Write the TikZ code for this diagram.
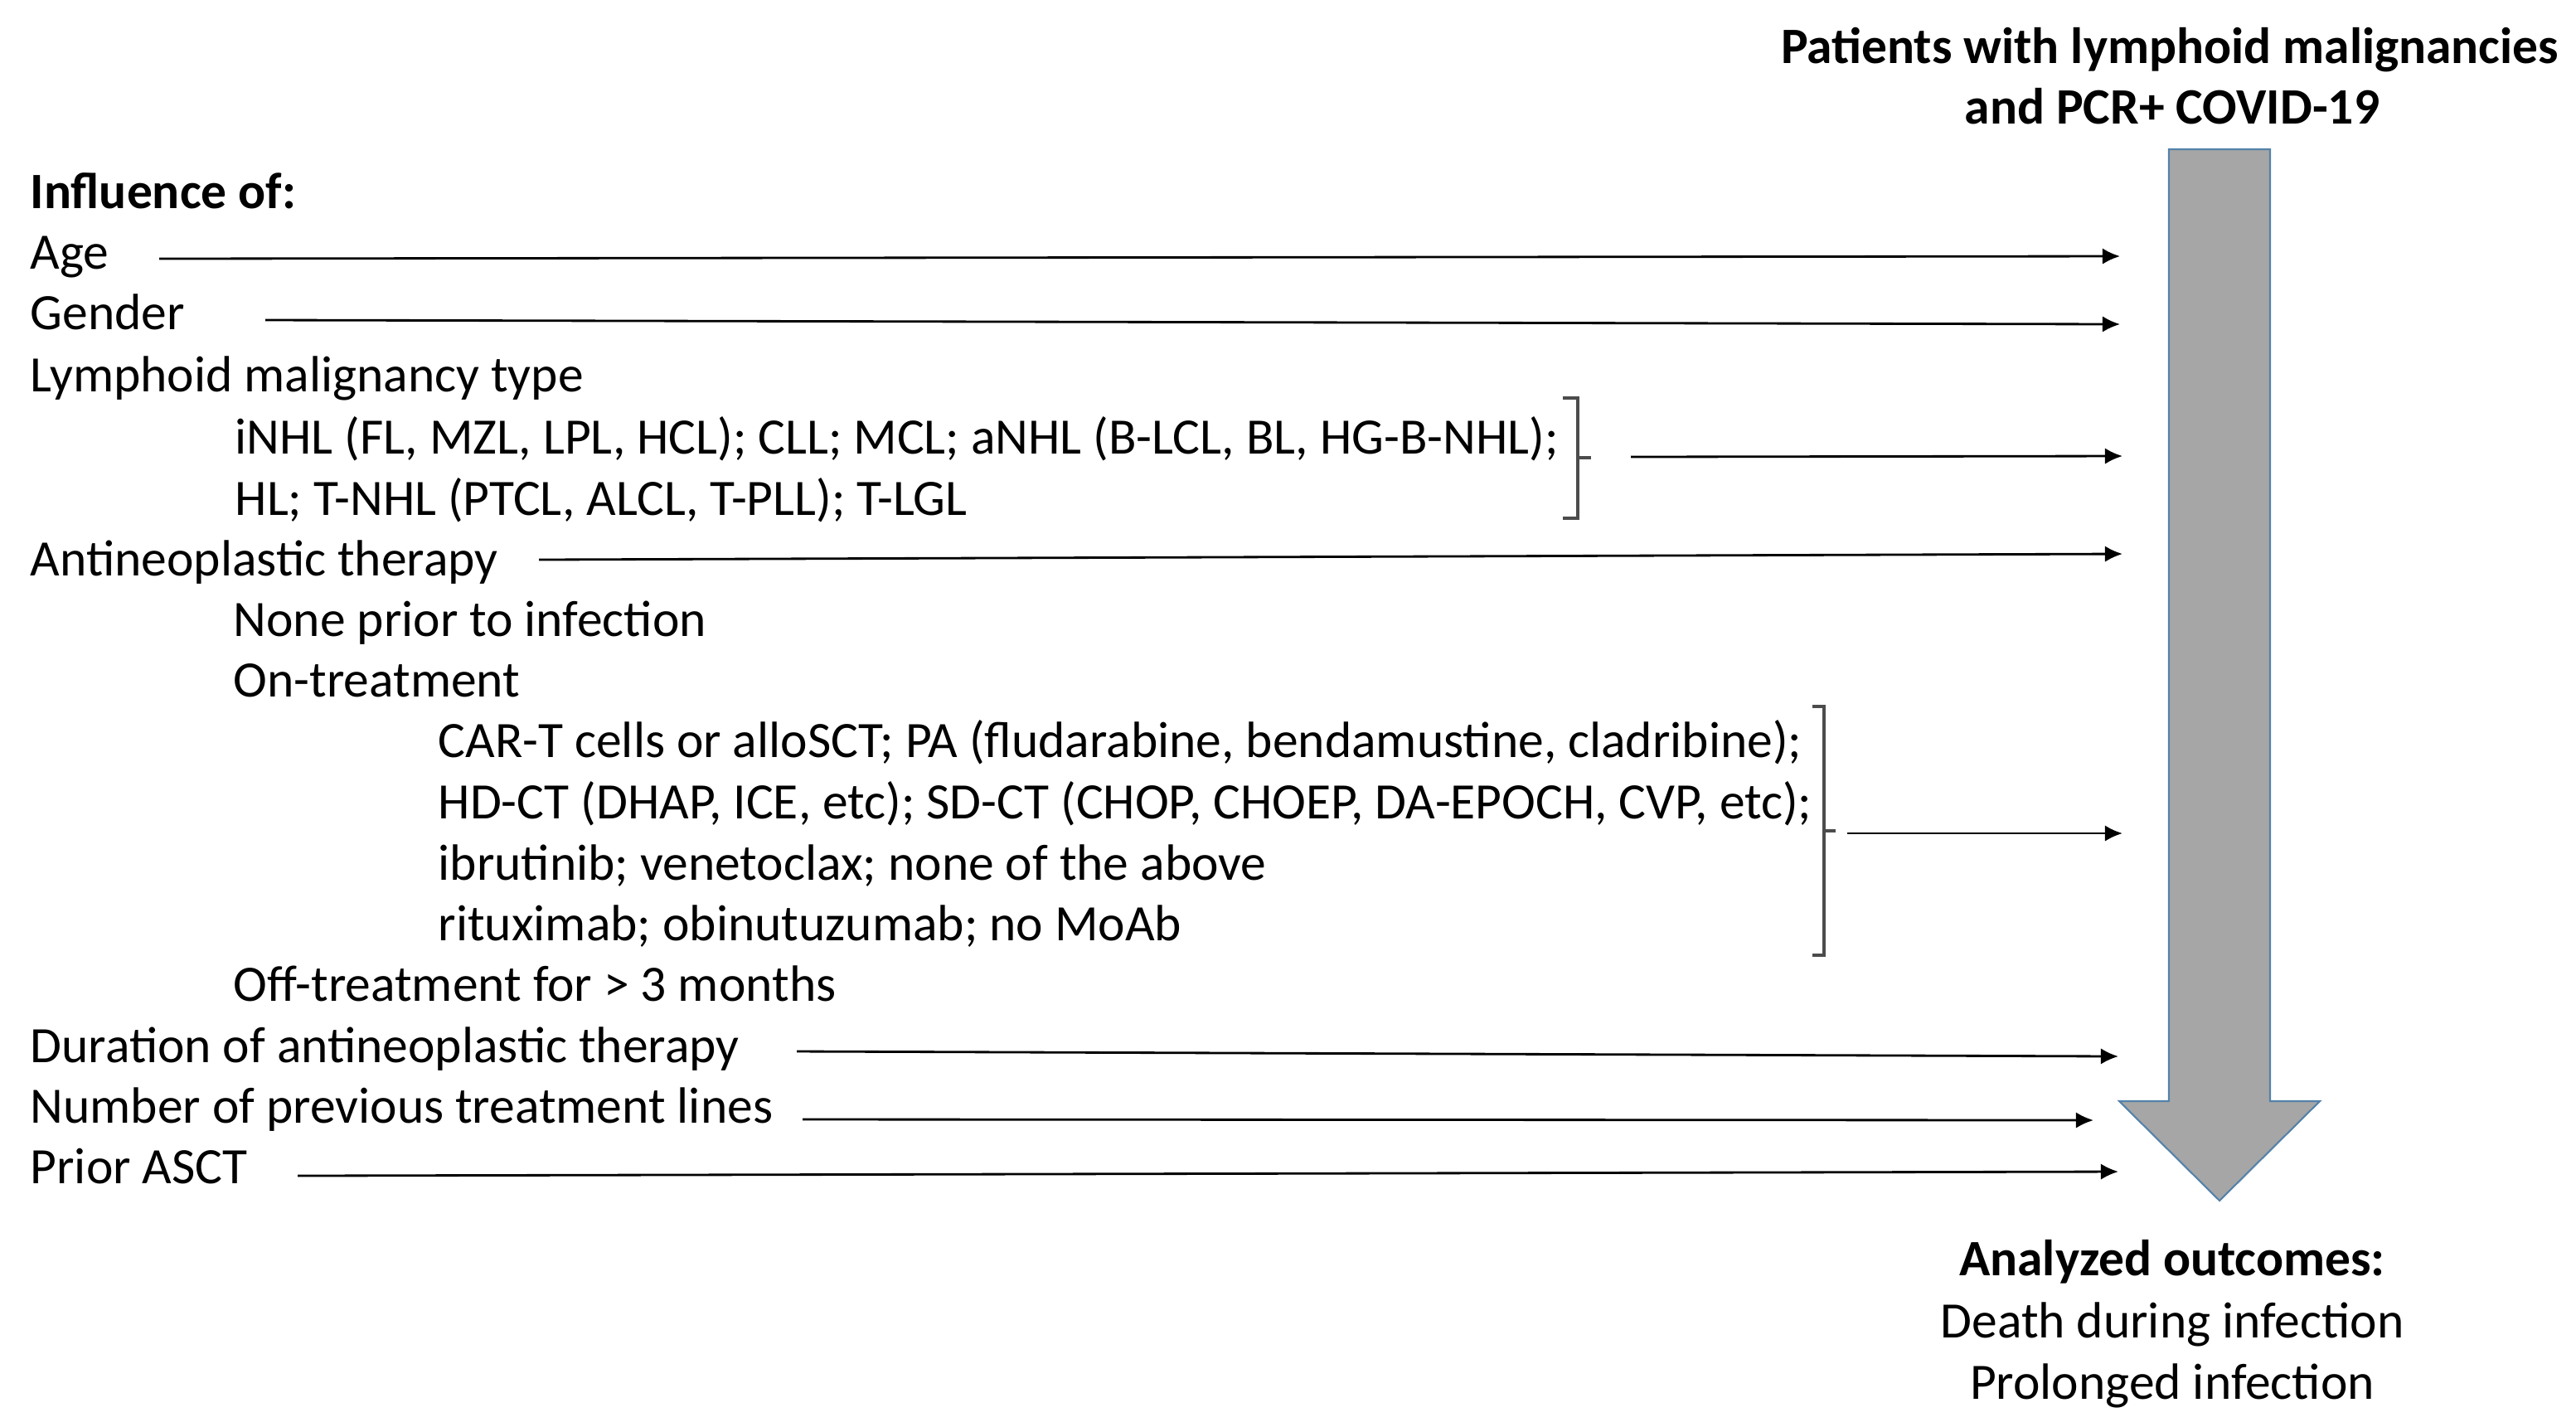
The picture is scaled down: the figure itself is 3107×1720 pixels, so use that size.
\documentclass[tikz,border=0pt]{standalone}
\usepackage{fontspec}
\setmainfont{Carlito}
\usepackage{tikz}
\usetikzlibrary{arrows.meta}

\definecolor{shaftgray}{RGB}{166,166,166}
\definecolor{shaftline}{RGB}{84,130,170}

\tikzset{
  txt/.style={anchor=base west, inner sep=0pt, font=\fontsize{17.5}{21}\selectfont},
  headtxt/.style={txt, font=\fontsize{17.5}{21}\selectfont\bfseries},
  link/.style={-{Latex[length=6pt,width=5.5pt]}, line width=0.8pt},
  bracket/.style={line width=0.9pt, black!70},
  bigarrow/.style={fill=shaftgray, draw=shaftline, line width=0.6pt},
}

\begin{document}
\begin{tikzpicture}[x=0.01cm, y=-0.01cm]
      \useasboundingbox (0,0) rectangle (3107,1720);
      % population and outcomes
      \node[headtxt, anchor=base] (patients) at (2617,76) {Patients with lymphoid malignancies};
      \node[headtxt, anchor=base] (pcr) at (2620,149) {and PCR+ COVID-19};
      \draw[bigarrow] (2616,180) -- (2738,180) -- (2738,1328) -- (2798,1328)
            -- (2677,1448) -- (2556,1328) -- (2616,1328) -- cycle;
      \node[headtxt, anchor=base] (outcomes) at (2620,1538) {Analyzed outcomes:};
      \node[txt, anchor=base] (death) at (2620,1613) {Death during infection};
      \node[txt, anchor=base] (prolonged) at (2620,1687) {Prolonged infection};

      % factors
      \node[headtxt] (influence) at (36,251) {Influence of:};
      \node[txt] (age) at (36,324) {Age};
      \node[txt] (gender) at (36,397) {Gender};
      \node[txt] (lymtype) at (36,472) {Lymphoid malignancy type};
      \node[txt] (nhl) at (283,547) {iNHL (FL, MZL, LPL, HCL); CLL; MCL; aNHL (B-LCL, BL, HG-B-NHL);};
      \node[txt] (hl) at (283,621) {HL; T-NHL (PTCL, ALCL, T-PLL); T-LGL};
      \node[txt] (therapy) at (36,694) {Antineoplastic therapy};
      \node[txt] (none) at (281,767) {None prior to infection};
      \node[txt] (ontreat) at (281,840) {On-treatment};
      \node[txt] (cart) at (528,913) {CAR-T cells or alloSCT; PA (fludarabine, bendamustine, cladribine);};
      \node[txt] (hdct) at (528,987) {HD-CT (DHAP, ICE, etc); SD-CT (CHOP, CHOEP, DA-EPOCH, CVP, etc);};
      \node[txt] (ibru) at (528,1061) {ibrutinib; venetoclax; none of the above};
      \node[txt] (ritux) at (528,1134) {rituximab; obinutuzumab; no MoAb};
      \node[txt] (offtreat) at (281,1207) {Off-treatment for > 3 months};
      \node[txt] (duration) at (36,1281) {Duration of antineoplastic therapy};
      \node[txt] (lines) at (36,1354) {Number of previous treatment lines};
      \node[txt] (asct) at (36,1427) {Prior ASCT};

      % brackets
      \draw[bracket] (1885,480) -- (1903,480) -- (1903,625) -- (1885,625);
      \draw[bracket] (1903,552) -- (1919,552);
      \draw[bracket] (2186,852) -- (2200,852) -- (2200,1152) -- (2186,1152);
      \draw[bracket] (2200,1002) -- (2214,1002);

      % arrow ends
      \coordinate (age-s) at (192,312);      \coordinate (age-e) at (2557,309);
      \coordinate (gender-s) at (320,386);   \coordinate (gender-e) at (2557,391);
      \coordinate (type-s) at (1967,551);    \coordinate (type-e) at (2560,550);
      \coordinate (therapy-s) at (650,675);  \coordinate (therapy-e) at (2560,668);
      \coordinate (treat-s) at (2228,1005);  \coordinate (treat-e) at (2560,1005);
      \coordinate (dur-s) at (961,1268);     \coordinate (dur-e) at (2555,1274);
      \coordinate (lines-s) at (968,1350);   \coordinate (lines-e) at (2525,1351);
      \coordinate (asct-s) at (359,1418);    \coordinate (asct-e) at (2555,1413);

      \draw[link] (age-s) -- (age-e);
      \draw[link] (gender-s) -- (gender-e);
      \draw[link] (type-s) -- (type-e);
      \draw[link] (therapy-s) -- (therapy-e);
      \draw[link] (treat-s) -- (treat-e);
      \draw[link] (dur-s) -- (dur-e);
      \draw[link] (lines-s) -- (lines-e);
      \draw[link] (asct-s) -- (asct-e);
    \end{tikzpicture}
\end{document}
